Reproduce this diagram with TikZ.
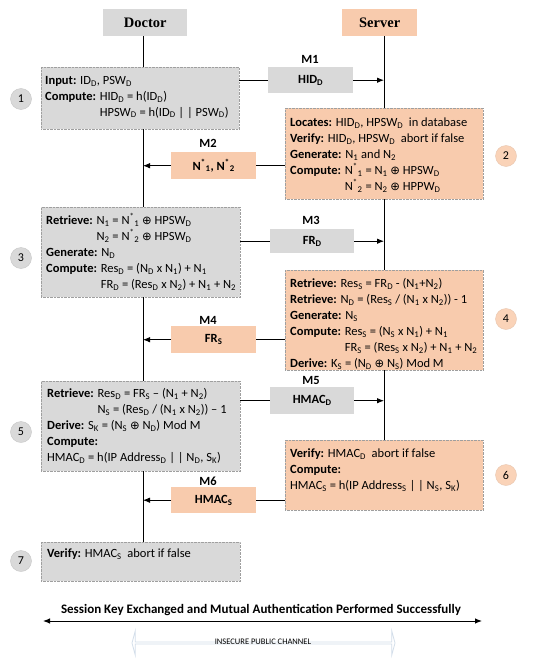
\documentclass[tikz,border=0pt]{standalone}
\usepackage{fontspec}
\setmainfont{Carlito}
\newfontfamily\hdrfont{Liberation Serif}
\newfontfamily\symfnt{DejaVu Sans}
\usetikzlibrary{arrows.meta,shapes.arrows}
\newcommand{\sbs}[1]{\textsubscript{#1}}
\newcommand{\spx}{\textsuperscript{*}}
\newcommand{\xo}{{\symfnt\fontsize{11.5}{12}\selectfont ⊕}}
\definecolor{gfill}{HTML}{D9D9D9}
\definecolor{ofill}{HTML}{F8CBAD}
\definecolor{ocirc}{HTML}{FAD3B8}
\definecolor{chan}{HTML}{D3DEEA}
\begin{document}
\begin{tikzpicture}[x=1pt,y={(0pt,-1pt)},
  hdr/.style={anchor=north west,inner sep=0,font=\hdrfont\bfseries\fontsize{14.5}{16}\selectfont},
  gbox/.style={anchor=north west,inner sep=0,fill=gfill,draw=gray!75,densely dotted},
  obox/.style={anchor=north west,inner sep=0,fill=ofill,draw=gray!75,densely dotted},
  txt/.style={anchor=north west,inner sep=0,align=left,font=\fontsize{12.5}{16}\selectfont},
  msg/.style={anchor=north west,inner sep=0,font=\bfseries\fontsize{12.5}{14}\selectfont},
  mlab/.style={inner sep=0,font=\bfseries\fontsize{12.5}{14}\selectfont},
  stepg/.style={circle,minimum size=21pt,inner sep=0,fill=gfill,draw=gray!45,font=\fontsize{12}{14}\selectfont},
  stepo/.style={circle,minimum size=21pt,inner sep=0,fill=ocirc,draw=ocirc!85!gray,font=\fontsize{12}{14}\selectfont},
  life/.style={line width=0.9pt},
  arr/.style={line width=0.9pt,-{Latex[length=7pt,width=5.5pt]}}]
\useasboundingbox[fill=white] (0,0) rectangle (550,661);

% headers
\node[hdr,fill=gfill,minimum width=84pt,minimum height=27pt] (doc) at (103,9) {Doctor};
\node[hdr,fill=ofill,minimum width=75pt,minimum height=27pt] (srv) at (342,9) {Server};
\coordinate (dl) at (143,0);
\coordinate (sl) at (384,0);

% step boxes
\node[gbox,minimum width=198pt,minimum height=62pt] (b1) at (41,67) {};
\node[obox,minimum width=198pt,minimum height=91pt] (b2) at (285,108) {};
\node[gbox,minimum width=199pt,minimum height=90pt] (b3) at (41,207) {};
\node[obox,minimum width=198pt,minimum height=100pt] (b4) at (285,270) {};
\node[gbox,minimum width=199pt,minimum height=90pt] (b5) at (41,381) {};
\node[obox,minimum width=198pt,minimum height=70pt] (b6) at (285,440) {};
\node[gbox,minimum width=199pt,minimum height=39pt] (b7) at (41,542) {};

% texts
\node[txt] (t1) at (45,72.8) {\strut\textbf{Input:} ID\sbs{D}, PSW\sbs{D}\\
\textbf{Compute:} HID\sbs{D} = h(ID\sbs{D})\\
\phantom{\textbf{Compute:} }HPSW\sbs{D} = h(ID\sbs{D} | | PSW\sbs{D})};
\node[txt] (t2) at (290,114.8) {\strut\textbf{Locates:} HID\sbs{D}, HPSW\sbs{D}\ \ in database\\
\textbf{Verify:} HID\sbs{D}, HPSW\sbs{D}\ \ abort if false\\
\textbf{Generate:} N\sbs{1} and N\sbs{2}\\
\textbf{Compute:} N\spx\sbs{1} = N\sbs{1} \xo{} HPSW\sbs{D}\\
\phantom{\textbf{Compute:} }N\spx\sbs{2} = N\sbs{2} \xo{} HPPW\sbs{D}};
\node[txt] (t3) at (46,212.8) {\strut\textbf{Retrieve:} N\sbs{1} = N\spx\sbs{1} \xo{} HPSW\sbs{D}\\
\phantom{\textbf{Retrieve:} }N\sbs{2} = N\spx\sbs{2} \xo{} HPSW\sbs{D}\\
\textbf{Generate:} N\sbs{D}\\
\textbf{Compute:} Res\sbs{D} = (N\sbs{D} x N\sbs{1}) + N\sbs{1}\\
\phantom{\textbf{Compute:} }FR\sbs{D} = (Res\sbs{D} x N\sbs{2}) + N\sbs{1} + N\sbs{2}};
\node[txt] (t4) at (290,275.8) {\strut\textbf{Retrieve:} Res\sbs{S} = FR\sbs{D} - (N\sbs{1}+N\sbs{2})\\
\textbf{Retrieve:} N\sbs{D} = (Res\sbs{S} / (N\sbs{1} x N\sbs{2})) - 1\\
\textbf{Generate:} N\sbs{S}\\
\textbf{Compute:} Res\sbs{S} = (N\sbs{S} x N\sbs{1}) + N\sbs{1}\\
\phantom{\textbf{Compute:} }FR\sbs{S} = (Res\sbs{S} x N\sbs{2}) + N\sbs{1} + N\sbs{2}\\
\textbf{Derive:} K\sbs{S} = (N\sbs{D} \xo{} N\sbs{S}) Mod M};
\node[txt] (t5) at (47,385.8) {\strut\textbf{Retrieve:} Res\sbs{D} = FR\sbs{S} -- (N\sbs{1} + N\sbs{2})\\
\phantom{\textbf{Retrieve:} }N\sbs{S} = (Res\sbs{D} / (N\sbs{1} x N\sbs{2})) -- 1\\
\textbf{Derive:} S\sbs{K} = (N\sbs{S} \xo{} N\sbs{D}) Mod M\\
\textbf{Compute:}\\
HMAC\sbs{D} = h(IP Address\sbs{D} | | N\sbs{D}, S\sbs{K})};
\node[txt] (t6) at (290,445.8) {\strut\textbf{Verify:} HMAC\sbs{D}\ \ abort if false\\
\textbf{Compute:}\\
HMAC\sbs{S} = h(IP Address\sbs{S} | | N\sbs{S}, S\sbs{K})};
\node[txt] (t7) at (47,545.8) {\strut\textbf{Verify:} HMAC\sbs{S}\ \ abort if false};

% step numbers
\node[stepg] (s1) at (21,99) {1};
\node[stepo] (s2) at (506,156) {2};
\node[stepg] (s3) at (21,258) {3};
\node[stepo] (s4) at (506,319) {4};
\node[stepg] (s5) at (21,432) {5};
\node[stepo] (s6) at (506,475) {6};
\node[stepg] (s7) at (21,561) {7};

% message boxes
\node[msg,fill=gfill,minimum width=85pt,minimum height=26pt] (m1) at (268,67) {HID\sbs{D}};
\node[msg,fill=ofill,minimum width=85pt,minimum height=27pt] (m2) at (171,152) {N\spx\sbs{1}, N\spx\sbs{2}};
\node[msg,fill=gfill,minimum width=84pt,minimum height=24pt] (m3) at (270,229) {FR\sbs{D}};
\node[msg,fill=ofill,minimum width=85pt,minimum height=27pt] (m4) at (171,326) {FR\sbs{S}};
\node[msg,fill=gfill,minimum width=84pt,minimum height=27pt] (m5) at (270,387) {HMAC\sbs{D}};
\node[msg,fill=ofill,minimum width=85pt,minimum height=26pt] (m6) at (171,487) {HMAC\sbs{S}};

\node[mlab] (l1) at (310,59) {M1};
\node[mlab] (l2) at (208,143) {M2};
\node[mlab] (l3) at (311,220) {M3};
\node[mlab] (l4) at (208,320) {M4};
\node[mlab] (l5) at (311,380) {M5};
\node[mlab] (l6) at (208,481) {M6};

% lifelines
\draw[life] (doc.south -| dl) -- (b1.north -| dl);
\draw[life] (b1.south -| dl) -- (b3.north -| dl);
\draw[life] (b3.south -| dl) -- (b5.north -| dl);
\draw[life] (b5.south -| dl) -- (b7.north -| dl);
\draw[life] (srv.south -| sl) -- (b2.north -| sl);
\draw[life] (b2.south -| sl) -- (b4.north -| sl);
\draw[life] (b4.south -| sl) -- (b6.north -| sl);

% messages
\draw[life] (b1.east |- m1) -- (m1.west);
\draw[arr] (m1.east) -- (m1.east -| sl);
\draw[life] (b2.west |- m2) -- (m2.east);
\draw[arr] (m2.west) -- (m2.west -| dl);
\draw[life] (b3.east |- m3) -- (m3.west);
\draw[arr] (m3.east) -- (m3.east -| sl);
\draw[life] (b4.west |- m4) -- (m4.east);
\draw[arr] (m4.west) -- (m4.west -| dl);
\draw[life] (b5.east |- m5) -- (m5.west);
\draw[arr] (m5.east) -- (m5.east -| sl);
\draw[life] (b6.west |- m6) -- (m6.east);
\draw[arr] (m6.west) -- (m6.west -| dl);

% bottom
\coordinate (fl) at (43,621);
\coordinate (fr) at (482,621);
\draw[line width=1pt,{Latex[length=7pt,width=5.5pt]}-{Latex[length=7pt,width=5.5pt]}] (fl) -- (fr);
\node[inner sep=0,font=\bfseries\fontsize{13}{15}\selectfont] (fin) at (261,610) {Session Key Exchanged and Mutual Authentication Performed Successfully};
\node[double arrow,draw=chan,line width=0.8pt,fill=white,minimum width=24pt,minimum height=263pt,double arrow head extend=4pt,double arrow tip angle=150,inner sep=0] (ch) at (263.5,643) {};
\node[inner sep=0,font=\fontsize{8.5}{10}\selectfont] (chl) at (263,642) {INSECURE PUBLIC CHANNEL};
\end{tikzpicture}
\end{document}
